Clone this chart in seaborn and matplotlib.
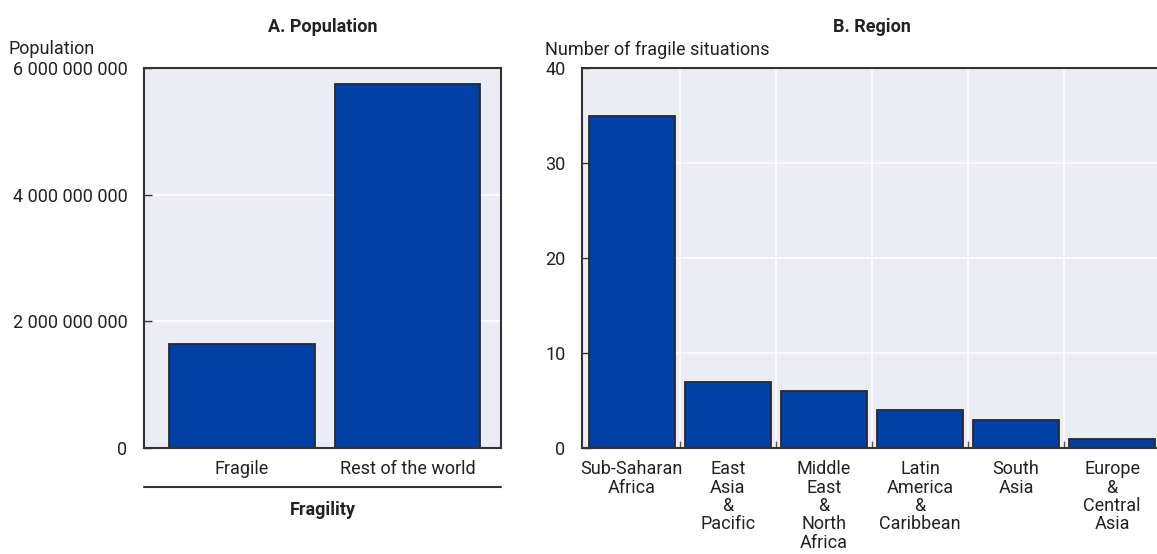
import pandas as pd
import seaborn as sns
import matplotlib.pyplot as plt
from matplotlib.ticker import FuncFormatter, FixedLocator

# panel A
fragility = ['Fragile', 'Rest of the world']
population = [1.64e9, 5.75e9]

# panel B
regions = ['Sub-Saharan\nAfrica', 'East\nAsia\n&\nPacific', 'Middle\nEast\n&\nNorth\nAfrica',
           'Latin\nAmerica\n&\nCaribbean', 'South\nAsia', 'Europe\n&\nCentral\nAsia']
n_fragile = [35, 7, 6, 4, 3, 1]

bar_color = '#0040A4'
edge_color = '#2a2a2a'
bg_color = '#ECECF5'
fs = 13

sns.set_style('darkgrid', {'axes.facecolor': bg_color, 'grid.color': 'white'})
plt.rcParams['font.family'] = ['Roboto', 'DejaVu Sans']
plt.rcParams['font.size'] = fs

fig = plt.figure(figsize=(11.57, 5.54), dpi=100)
ax1 = fig.add_axes([144 / 1157, 106 / 554, 357 / 1157, 380 / 554])
ax2 = fig.add_axes([582 / 1157, 106 / 554, 580 / 1157, 380 / 554])

df_a = pd.DataFrame({'Fragility': fragility, 'Population': population})
df_b = pd.DataFrame({'Region': regions, 'Count': n_fragile})

sns.barplot(data=df_a, x='Fragility', y='Population', color=bar_color, width=0.88,
            edgecolor=edge_color, linewidth=1.3, saturation=1, ax=ax1)
sns.barplot(data=df_b, x='Region', y='Count', color=bar_color, width=0.9,
            edgecolor=edge_color, linewidth=1.3, saturation=1, ax=ax2)

for ax in (ax1, ax2):
    for s in ax.spines.values():
        s.set_visible(True)
        s.set_color('#333333')
        s.set_linewidth(1.5)
    ax.set_xlabel('')
    ax.set_ylabel('')
    ax.tick_params(axis='y', direction='in', length=6, width=1, color='#333333',
                   pad=12, labelsize=fs, labelcolor='#222222', left=True)
    ax.grid(True, axis='y', color='white', linewidth=1.2)

# panel A
ax1.set_ylim(0, 6e9)
ax1.set_yticks([0, 2e9, 4e9, 6e9])
ax1.yaxis.set_major_formatter(FuncFormatter(lambda v, p: f'{int(v):,}'.replace(',', ' ')))
ax1.set_xlim(-0.59, 1.565)
ax1.grid(False, axis='x')
ax1.tick_params(axis='x', length=0, pad=9, labelsize=fs, labelcolor='#222222')
ax1.set_title('A. Population', fontsize=fs, fontweight='bold', pad=26, color='#222222')
ax1.plot([0, 1], [-0.103, -0.103], transform=ax1.transAxes, color='#333333',
         linewidth=1.5, clip_on=False)
ax1.text(0.5, -0.163, 'Fragility', transform=ax1.transAxes, ha='center', va='center',
         fontsize=fs, fontweight='bold', color='#222222')
fig.text(8 / 1157, 1 - 49 / 554, 'Population', ha='left', va='center', fontsize=fs, color='#222222')

# panel B
ax2.set_ylim(0, 40)
ax2.set_yticks([0, 10, 20, 30, 40])
ax2.set_xlim(-0.52, 5.52)
ax2.xaxis.set_minor_locator(FixedLocator([i + 0.5 for i in range(len(regions) - 1)]))
ax2.grid(False, axis='x', which='major')
ax2.grid(True, axis='x', which='minor', color='white', linewidth=1.2)
ax2.tick_params(axis='x', which='major', length=0, pad=9, labelsize=fs, labelcolor='#222222')
ax2.tick_params(axis='x', which='minor', direction='in', length=5, width=1,
                color='#555555', bottom=True)
for lab in ax2.get_xticklabels():
    lab.set_linespacing(1.02)
ax2.set_title('B. Region', fontsize=fs, fontweight='bold', pad=26, color='#222222')
fig.text(545 / 1157, 1 - 50 / 554, 'Number of fragile situations', ha='left', va='center',
         fontsize=fs, color='#222222')

fig.savefig('out.png', dpi=100)
